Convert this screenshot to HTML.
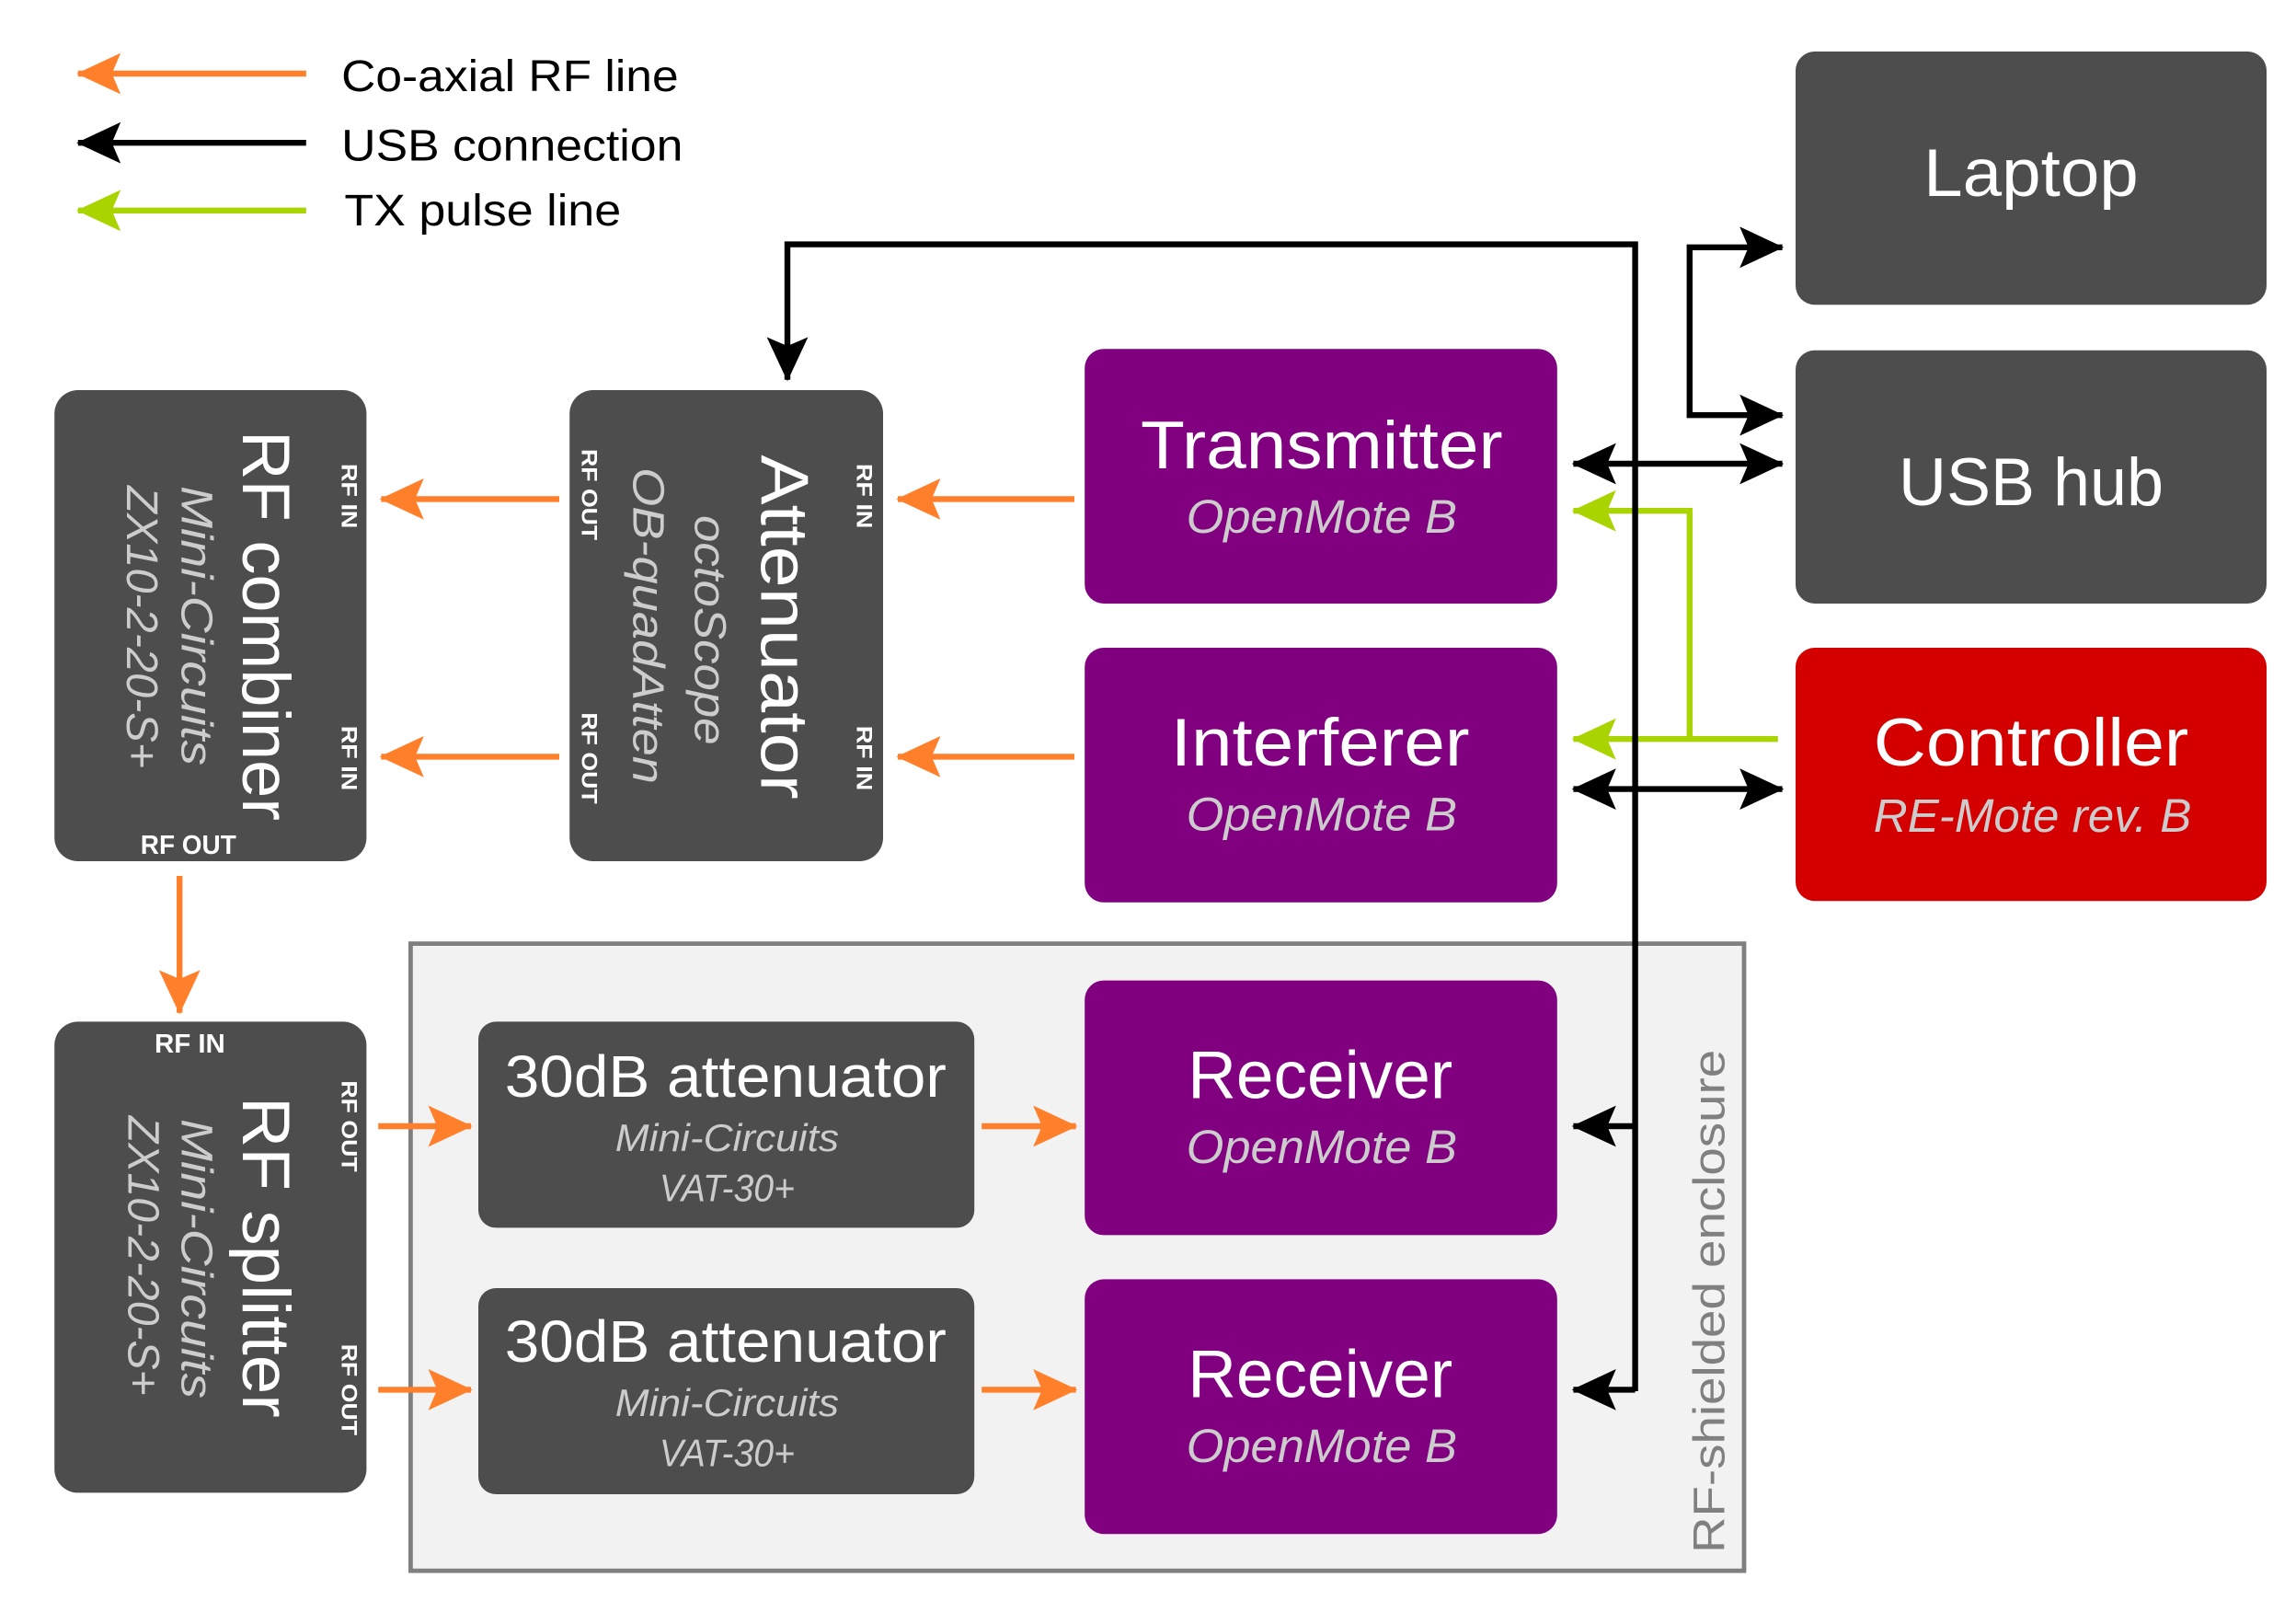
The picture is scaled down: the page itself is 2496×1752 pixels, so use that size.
<!DOCTYPE html>
<html><head><meta charset="utf-8"><style>
html,body{margin:0;padding:0;background:#fff;}
svg{display:block;}
text{font-family:"Liberation Sans",sans-serif;}
</style></head><body>
<svg width="2496" height="1752" viewBox="0 0 1560 1095" xmlns="http://www.w3.org/2000/svg">
<defs>
<marker id="mo" viewBox="0 0 30 30" refX="29" refY="15" markerWidth="30" markerHeight="30" markerUnits="userSpaceOnUse" orient="auto-start-reverse"><path d="M0,1 L30,15 L0,29 L6,15 z" fill="#ff7f2a"/></marker>
<marker id="mk" viewBox="0 0 30 30" refX="29" refY="15" markerWidth="30" markerHeight="30" markerUnits="userSpaceOnUse" orient="auto-start-reverse"><path d="M0,1 L30,15 L0,29 L6,15 z" fill="#000"/></marker>
<marker id="mg" viewBox="0 0 30 30" refX="29" refY="15" markerWidth="30" markerHeight="30" markerUnits="userSpaceOnUse" orient="auto-start-reverse"><path d="M0,1 L30,15 L0,29 L6,15 z" fill="#aad400"/></marker>
</defs>

<!-- Legend -->
<line x1="208" y1="50" x2="53" y2="50" stroke="#ff7f2a" stroke-width="4" marker-end="url(#mo)"/>
<line x1="208" y1="97" x2="53" y2="97" stroke="#000" stroke-width="4" marker-end="url(#mk)"/>
<line x1="208" y1="143" x2="53" y2="143" stroke="#aad400" stroke-width="4" marker-end="url(#mg)"/>
<text x="232" y="62" font-size="30" textLength="229" lengthAdjust="spacingAndGlyphs">Co-axial RF line</text>
<text x="232" y="109" font-size="30" textLength="232" lengthAdjust="spacingAndGlyphs">USB connection</text>
<text x="234" y="153" font-size="30" textLength="188" lengthAdjust="spacingAndGlyphs">TX pulse line</text>

<!-- Enclosure -->
<rect x="279" y="641" width="906" height="426" fill="#f2f2f2" stroke="#808080" stroke-width="3"/>
<text transform="translate(1162,884) rotate(-90)" font-size="30" fill="#808080" text-anchor="middle" dominant-baseline="central" textLength="342" lengthAdjust="spacingAndGlyphs">RF-shielded enclosure</text>

<!-- Right boxes -->
<rect x="1220" y="35" width="320" height="172" rx="13" fill="#4d4d4d"/>
<text x="1380" y="133" font-size="46" fill="#fff" text-anchor="middle" textLength="146" lengthAdjust="spacingAndGlyphs">Laptop</text>
<rect x="1220" y="238" width="320" height="172" rx="13" fill="#4d4d4d"/>
<text x="1380" y="343" font-size="46" fill="#fff" text-anchor="middle" textLength="180" lengthAdjust="spacingAndGlyphs">USB hub</text>
<rect x="1220" y="440" width="320" height="172" rx="13" fill="#d40000"/>
<text x="1380" y="520" font-size="46" fill="#fff" text-anchor="middle" textLength="214" lengthAdjust="spacingAndGlyphs">Controller</text>
<text x="1381" y="565" font-size="32" font-style="italic" fill="#cccccc" text-anchor="middle" textLength="216" lengthAdjust="spacingAndGlyphs">RE-Mote rev. B</text>

<!-- Purple boxes -->
<rect x="737" y="237" width="321" height="173" rx="13" fill="#800080"/>
<text x="898" y="318" font-size="46" fill="#fff" text-anchor="middle" textLength="246" lengthAdjust="spacingAndGlyphs">Transmitter</text>
<text x="898" y="362" font-size="32" font-style="italic" fill="#cccccc" text-anchor="middle" textLength="184" lengthAdjust="spacingAndGlyphs">OpenMote B</text>
<rect x="737" y="440" width="321" height="173" rx="13" fill="#800080"/>
<text x="897" y="520" font-size="46" fill="#fff" text-anchor="middle" textLength="203" lengthAdjust="spacingAndGlyphs">Interferer</text>
<text x="898" y="564" font-size="32" font-style="italic" fill="#cccccc" text-anchor="middle" textLength="184" lengthAdjust="spacingAndGlyphs">OpenMote B</text>
<rect x="737" y="666" width="321" height="173" rx="13" fill="#800080"/>
<text x="897" y="746" font-size="46" fill="#fff" text-anchor="middle" textLength="180" lengthAdjust="spacingAndGlyphs">Receiver</text>
<text x="898" y="790" font-size="32" font-style="italic" fill="#cccccc" text-anchor="middle" textLength="184" lengthAdjust="spacingAndGlyphs">OpenMote B</text>
<rect x="737" y="869" width="321" height="173" rx="13" fill="#800080"/>
<text x="897" y="949" font-size="46" fill="#fff" text-anchor="middle" textLength="180" lengthAdjust="spacingAndGlyphs">Receiver</text>
<text x="898" y="993" font-size="32" font-style="italic" fill="#cccccc" text-anchor="middle" textLength="184" lengthAdjust="spacingAndGlyphs">OpenMote B</text>

<!-- 30dB attenuators -->
<rect x="325" y="694" width="337" height="140" rx="12" fill="#4d4d4d"/>
<text x="493" y="745" font-size="40" fill="#fff" text-anchor="middle" textLength="300" lengthAdjust="spacingAndGlyphs">30dB attenuator</text>
<text x="494" y="782" font-size="26" font-style="italic" fill="#cccccc" text-anchor="middle" textLength="152" lengthAdjust="spacingAndGlyphs">Mini-Circuits</text>
<text x="494" y="816" font-size="26" font-style="italic" fill="#cccccc" text-anchor="middle" textLength="92" lengthAdjust="spacingAndGlyphs">VAT-30+</text>
<rect x="325" y="875" width="337" height="140" rx="12" fill="#4d4d4d"/>
<text x="493" y="925" font-size="40" fill="#fff" text-anchor="middle" textLength="300" lengthAdjust="spacingAndGlyphs">30dB attenuator</text>
<text x="494" y="962" font-size="26" font-style="italic" fill="#cccccc" text-anchor="middle" textLength="152" lengthAdjust="spacingAndGlyphs">Mini-Circuits</text>
<text x="494" y="996" font-size="26" font-style="italic" fill="#cccccc" text-anchor="middle" textLength="92" lengthAdjust="spacingAndGlyphs">VAT-30+</text>

<!-- RF combiner -->
<rect x="37" y="265" width="212" height="320" rx="16" fill="#4d4d4d"/>
<text transform="translate(181,425) rotate(90)" font-size="46" fill="#fff" text-anchor="middle" dominant-baseline="central" textLength="265" lengthAdjust="spacingAndGlyphs">RF combiner</text>
<text transform="translate(133,425) rotate(90)" font-size="30" font-style="italic" fill="#cccccc" text-anchor="middle" dominant-baseline="central" textLength="190" lengthAdjust="spacingAndGlyphs">Mini-Circuits</text>
<text transform="translate(96,426) rotate(90)" font-size="30" font-style="italic" fill="#cccccc" text-anchor="middle" dominant-baseline="central" textLength="192" lengthAdjust="spacingAndGlyphs">ZX10-2-20-S+</text>
<text transform="translate(237,337) rotate(90)" font-size="15" font-weight="bold" fill="#fff" text-anchor="middle" dominant-baseline="central" textLength="44" lengthAdjust="spacingAndGlyphs">RF IN</text>
<text transform="translate(237,515) rotate(90)" font-size="15" font-weight="bold" fill="#fff" text-anchor="middle" dominant-baseline="central" textLength="44" lengthAdjust="spacingAndGlyphs">RF IN</text>
<text x="128" y="580" font-size="18" font-weight="bold" fill="#fff" text-anchor="middle" textLength="65" lengthAdjust="spacingAndGlyphs">RF OUT</text>

<!-- Attenuator -->
<rect x="387" y="265" width="213" height="320" rx="16" fill="#4d4d4d"/>
<text transform="translate(533,426) rotate(90)" font-size="46" fill="#fff" text-anchor="middle" dominant-baseline="central" textLength="234" lengthAdjust="spacingAndGlyphs">Attenuator</text>
<text transform="translate(482,428) rotate(90)" font-size="30" font-style="italic" fill="#cccccc" text-anchor="middle" dominant-baseline="central" textLength="156" lengthAdjust="spacingAndGlyphs">octoScope</text>
<text transform="translate(440,425) rotate(90)" font-size="30" font-style="italic" fill="#cccccc" text-anchor="middle" dominant-baseline="central" textLength="215" lengthAdjust="spacingAndGlyphs">OB-quadAtten</text>
<text transform="translate(587,337) rotate(90)" font-size="15" font-weight="bold" fill="#fff" text-anchor="middle" dominant-baseline="central" textLength="44" lengthAdjust="spacingAndGlyphs">RF IN</text>
<text transform="translate(587,515) rotate(90)" font-size="15" font-weight="bold" fill="#fff" text-anchor="middle" dominant-baseline="central" textLength="44" lengthAdjust="spacingAndGlyphs">RF IN</text>
<text transform="translate(400,336) rotate(90)" font-size="15" font-weight="bold" fill="#fff" text-anchor="middle" dominant-baseline="central" textLength="62" lengthAdjust="spacingAndGlyphs">RF OUT</text>
<text transform="translate(400,515) rotate(90)" font-size="15" font-weight="bold" fill="#fff" text-anchor="middle" dominant-baseline="central" textLength="62" lengthAdjust="spacingAndGlyphs">RF OUT</text>

<!-- RF splitter -->
<rect x="37" y="694" width="212" height="320" rx="16" fill="#4d4d4d"/>
<text transform="translate(181,854) rotate(90)" font-size="46" fill="#fff" text-anchor="middle" dominant-baseline="central" textLength="218" lengthAdjust="spacingAndGlyphs">RF splitter</text>
<text transform="translate(133,855) rotate(90)" font-size="30" font-style="italic" fill="#cccccc" text-anchor="middle" dominant-baseline="central" textLength="190" lengthAdjust="spacingAndGlyphs">Mini-Circuits</text>
<text transform="translate(97,853) rotate(90)" font-size="30" font-style="italic" fill="#cccccc" text-anchor="middle" dominant-baseline="central" textLength="190" lengthAdjust="spacingAndGlyphs">ZX10-2-20-S+</text>
<text x="129" y="715" font-size="18" font-weight="bold" fill="#fff" text-anchor="middle" textLength="48" lengthAdjust="spacingAndGlyphs">RF IN</text>
<text transform="translate(237,765) rotate(90)" font-size="15" font-weight="bold" fill="#fff" text-anchor="middle" dominant-baseline="central" textLength="62" lengthAdjust="spacingAndGlyphs">RF OUT</text>
<text transform="translate(237,944) rotate(90)" font-size="15" font-weight="bold" fill="#fff" text-anchor="middle" dominant-baseline="central" textLength="62" lengthAdjust="spacingAndGlyphs">RF OUT</text>

<!-- Orange connectors -->
<g stroke="#ff7f2a" stroke-width="4" fill="none" marker-end="url(#mo)">
<line x1="730" y1="339" x2="610" y2="339"/>
<line x1="730" y1="514" x2="610" y2="514"/>
<line x1="380" y1="339" x2="259" y2="339"/>
<line x1="380" y1="514" x2="259" y2="514"/>
<line x1="122" y1="595" x2="122" y2="688"/>
<line x1="257" y1="765" x2="320" y2="765"/>
<line x1="257" y1="944" x2="320" y2="944"/>
<line x1="667" y1="765" x2="731" y2="765"/>
<line x1="667" y1="944" x2="731" y2="944"/>
</g>

<!-- Green connectors -->
<g stroke="#aad400" stroke-width="4" fill="none">
<line x1="1208" y1="502" x2="1069" y2="502" marker-end="url(#mg)"/>
<polyline points="1148,502 1148,347 1069,347" marker-end="url(#mg)"/>
</g>

<!-- Black connectors -->
<g stroke="#000" stroke-width="4" fill="none">
<polyline points="1111,945 1111,166 535,166 535,258" marker-end="url(#mk)"/>
<line x1="1111" y1="765" x2="1069" y2="765" marker-end="url(#mk)"/>
<line x1="1111" y1="944" x2="1069" y2="944" marker-end="url(#mk)"/>
<polyline points="1211,168 1148,168 1148,282 1211,282" marker-start="url(#mk)" marker-end="url(#mk)"/>
<line x1="1069" y1="315" x2="1211" y2="315" marker-start="url(#mk)" marker-end="url(#mk)"/>
<line x1="1069" y1="536" x2="1211" y2="536" marker-start="url(#mk)" marker-end="url(#mk)"/>
</g>
</svg>
</body></html>
